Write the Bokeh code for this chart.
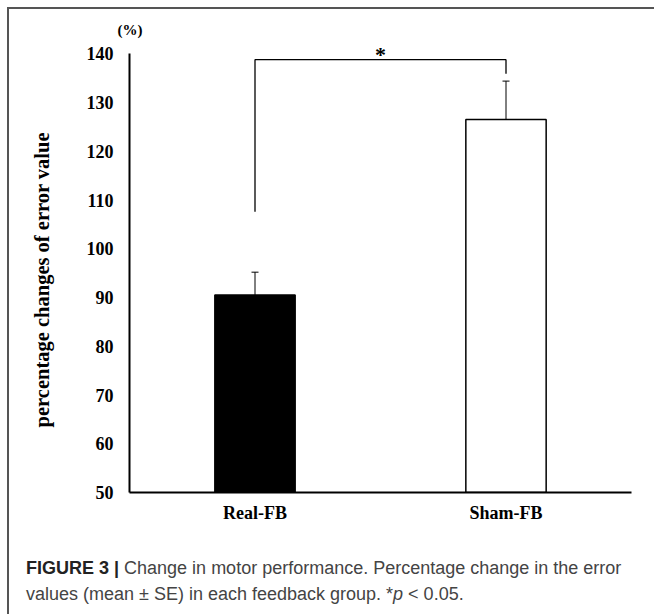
from bokeh.plotting import figure
from bokeh.models import (FactorRange, Range1d, ColumnDataSource, Whisker, TeeHead,
                          Div, FixedTicker)
from bokeh.layouts import column
from bokeh.transform import dodge
from bokeh.core.properties import value
from bokeh.embed import file_html
from bokeh.resources import INLINE

# ---- data ----
groups = ["Real-FB", "Sham-FB"]
means = [90.5, 126.5]
se = [4.7, 7.9]
fills = ["black", "white"]
y_ticks = [50, 60, 70, 80, 90, 100, 110, 120, 130, 140]
bracket_x = ["Real-FB", "Real-FB", "Sham-FB", "Sham-FB"]
bracket_y = [107.6, 138.8, 138.8, 135.9]
sig_text = "*"
sig_y = 139.9
y_unit = "(%)"
y_title = "percentage changes of error value"
caption_bold = "FIGURE 3 |"
caption_line1 = "Change in motor performance. Percentage change in the error"
caption_line2 = "values (mean ± SE) in each feedback group. *<i>p</i> &lt; 0.05."

SERIF = "Liberation Serif"

src = ColumnDataSource(dict(
    groups=groups, means=means, upper=[m + s for m, s in zip(means, se)], fills=fills,
))

p = figure(
    x_range=FactorRange(factors=groups, range_padding=0),
    y_range=Range1d(y_ticks[0], 141.5),
    width=644, height=520,
    min_border_left=120, min_border_right=22, min_border_top=37, min_border_bottom=37,
    output_backend="svg", toolbar_location=None,
)
p.outline_line_color = None
p.xgrid.grid_line_color = None
p.ygrid.grid_line_color = None
p.background_fill_color = "white"
p.border_fill_color = "white"

# unit label "(%)" at the top of the y axis
p.title.text = y_unit
p.title.align = "left"
p.title.offset = -12
p.title.standoff = 17
p.title.text_font = SERIF
p.title.text_font_style = "bold"
p.title.text_font_size = "15px"
p.title.text_color = "black"

p.vbar(x="groups", top="means", bottom=y_ticks[0], width=0.32, source=src,
       fill_color="fills", line_color="black", line_width=1.5)

p.add_layout(Whisker(source=src, base="groups", lower="means", upper="upper",
                     line_color="black", line_width=1,
                     upper_head=TeeHead(size=7, line_color="black", line_width=1),
                     lower_head=None))

p.line(bracket_x, bracket_y, line_color="black", line_width=1.3)

# significance star, midway between the two groups
star_src = ColumnDataSource(dict(g=[groups[0]], y=[sig_y], t=[sig_text]))
p.text(x=dodge("g", 0.5, range=p.x_range), y="y", text="t", source=star_src,
       text_font=value(SERIF), text_font_style="bold", text_font_size="22px",
       text_align="center", text_baseline="alphabetic", text_color="black")

# axes
for ax in (p.xaxis[0], p.yaxis[0]):
    ax.axis_line_width = 2
    ax.axis_line_color = "black"
    ax.major_tick_line_color = None
    ax.minor_tick_line_color = None
    ax.major_tick_out = 0
    ax.major_tick_in = 0
    ax.major_label_text_font = SERIF
    ax.major_label_text_font_style = "bold"
    ax.major_label_text_font_size = "18px"
    ax.major_label_text_color = "black"

p.yaxis.ticker = FixedTicker(ticks=y_ticks)
p.yaxis.bounds = (y_ticks[0], y_ticks[-1])
p.yaxis.major_label_standoff = 16
# trailing no-break spaces keep the label centred on the 50-140 span like the original
p.yaxis.axis_label = y_title + "\u00a0" * 4
p.yaxis.axis_label_text_font = SERIF
p.yaxis.axis_label_text_font_style = "bold"
p.yaxis.axis_label_text_font_size = "20.5px"
p.yaxis.axis_label_text_color = "black"
p.yaxis.axis_label_standoff = 31
p.xaxis.major_label_standoff = 10

cap = Div(
    text=f'<b style="color:#222">{caption_bold}</b> {caption_line1}<br>{caption_line2}',
    width=644, height=84,
    styles={"font-family": "'Liberation Sans', Arial, sans-serif", "font-size": "18px",
            "line-height": "26px", "color": "#444", "padding-left": "12px",
            "padding-top": "21px", "white-space": "nowrap", "box-sizing": "border-box"},
)

layout = column(p, cap, margin=(7, 0, 0, 7),
                styles={"border-top": "2px solid #555", "border-left": "2px solid #555"})

open("out.html", "w").write(file_html(layout, INLINE))
